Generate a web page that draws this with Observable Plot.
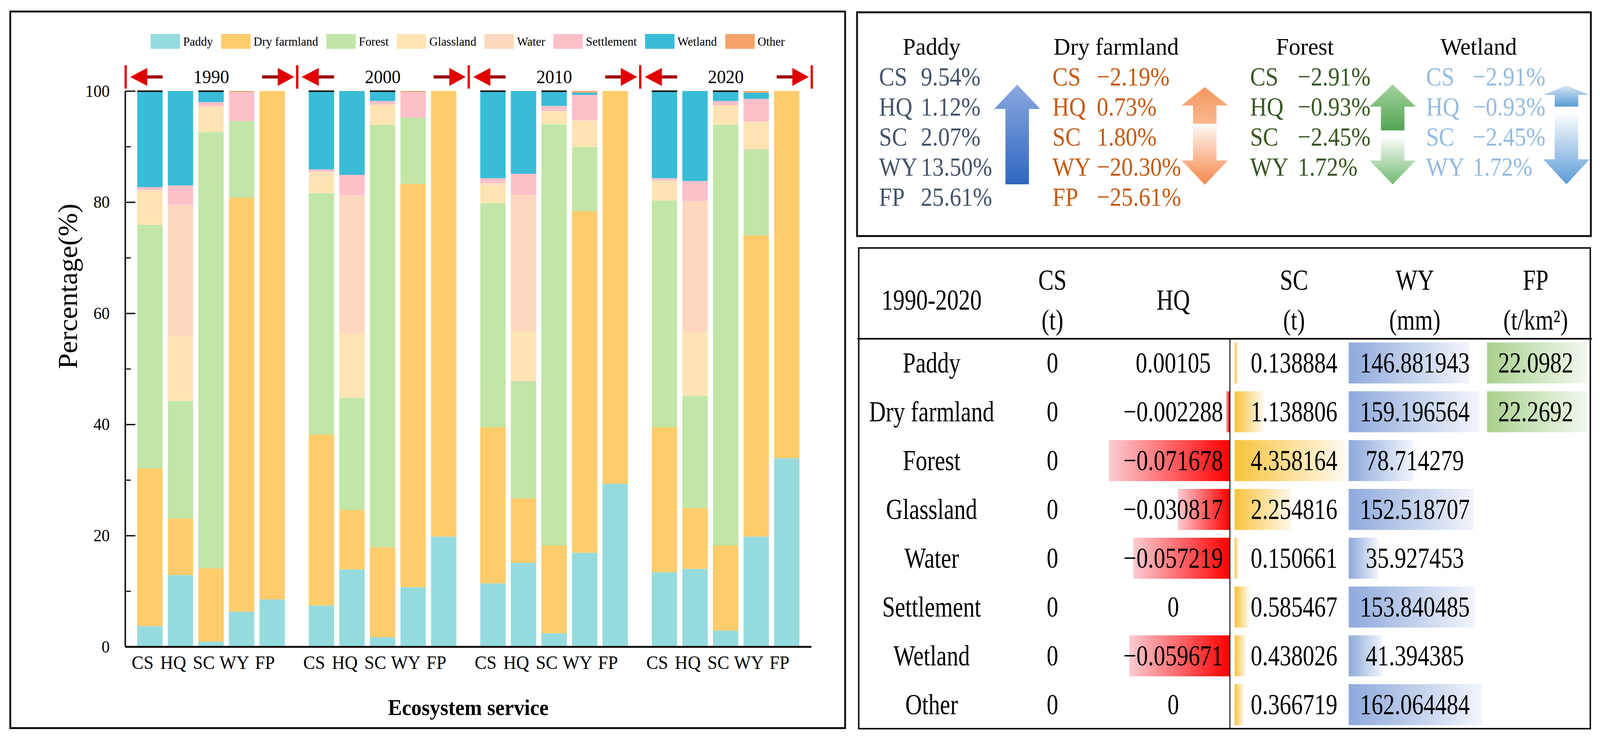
<!DOCTYPE html>
<html><head><meta charset="utf-8">
<script src="https://cdn.jsdelivr.net/npm/d3@7"></script>
<script src="https://cdn.jsdelivr.net/npm/@observablehq/plot@0.6"></script>
<style>
html,body{margin:0;padding:0;background:#fff;overflow:hidden;}
body{width:100vw;height:100vh;position:relative;font-family:"Liberation Serif","Times New Roman",serif;color:#000;}
#stage{position:absolute;left:0;top:0;width:4291px;height:1895px;transform-origin:0 0;background:#fff;}
.panel{position:absolute;box-sizing:border-box;border:5px solid #111;}
svg{overflow:visible;}
</style></head><body>
<div id="stage"></div>
<script>
// ---------------- DATA ----------------
const landTypes = ["Paddy","Dry farmland","Forest","Glassland","Water","Settlement","Wetland","Other"];
const landColors = ["#95dbde","#fecc6b","#c1e6a7","#fee4b4","#fdd8be","#fdc0c8","#38bcd7","#f5a36a"];
const years = ["1990","2000","2010","2020"];
const services = ["CS","HQ","SC","WY","FP"];
const majorTicks = [0,20,40,60,80,100];
const minorTicks = [10,30,50,70,90];
const capServices = ["CS","SC"];
// share (%) of each land type (order of landTypes) in each ecosystem service
const share1990 = {
  CS: [3.7, 28.4, 43.8, 6.1, 0.2, 0.5, 17.3, 0],
  HQ: [12.9, 10.2, 21.1, 11.6, 23.7, 3.5, 17.0, 0],
  SC: [0.9, 13.2, 78.5, 4.5, 0.2, 0.7, 2.0, 0],
  WY: [6.3, 74.5, 13.8, 0, 0, 5.2, 0, 0.2],
  FP: [8.5, 91.5, 0, 0, 0, 0, 0, 0]
};
const share2000 = {
  CS: [7.4, 30.8, 43.4, 3.8, 0.1, 0.4, 14.1, 0],
  HQ: [13.9, 10.7, 20.2, 11.4, 25.0, 3.7, 15.1, 0],
  SC: [1.7, 16.2, 76.0, 3.5, 0.2, 0.6, 1.8, 0],
  WY: [10.7, 72.6, 11.9, 0, 0, 4.6, 0, 0.2],
  FP: [19.8, 80.2, 0, 0, 0, 0, 0, 0]
};
const share2010 = {
  CS: [11.4, 28.1, 40.3, 3.3, 0.4, 0.8, 15.7, 0],
  HQ: [15.1, 11.6, 21.1, 8.9, 24.6, 3.8, 14.9, 0],
  SC: [2.4, 15.8, 75.8, 2.3, 0.1, 0.9, 2.7, 0],
  WY: [16.9, 61.5, 11.5, 4.8, 0, 4.6, 0.4, 0.3],
  FP: [29.3, 70.7, 0, 0, 0, 0, 0, 0]
};
const share2020 = {
  CS: [13.4, 26.1, 40.8, 3.4, 0.2, 0.4, 15.7, 0],
  HQ: [14.0, 11.0, 20.1, 11.4, 23.7, 3.6, 16.2, 0],
  SC: [2.9, 15.3, 75.7, 3.5, 0, 0.8, 1.8, 0],
  WY: [19.8, 54.2, 15.5, 5.0, 0, 4.1, 1.1, 0.3],
  FP: [33.9, 66.1, 0, 0, 0, 0, 0, 0]
};
const yLabel = "Percentage(%)";
const xLabel = "Ecosystem service";

// change panel
const changeGroups = ["Paddy","Dry farmland","Forest","Wetland"];
const changeServices = ["CS","HQ","SC","WY","FP"];
const paddyChange = [9.54, 1.12, 2.07, 13.50, 25.61];
const dryChange = [-2.19, 0.73, 1.80, -20.30, -25.61];
const forestChange = [-2.91, -0.93, -2.45, 1.72];
const wetlandChange = [-2.91, -0.93, -2.45, 1.72];

// table
const tableRows = ["Paddy","Dry farmland","Forest","Glassland","Water","Settlement","Wetland","Other"];
const tableCols = ["type","CS","HQ","SC","WY","FP"];
const tableHeaders = ["1990-2020","CS\n(t)","HQ","SC\n(t)","WY\n(mm)","FP\n(t/km\u00b2)"];
const csChange = [0,0,0,0,0,0,0,0];
const hqChange = [0.00105,-0.002288,-0.071678,-0.030817,-0.057219,0,-0.059671,0];
const scChange = [0.138884,1.138806,4.358164,2.254816,0.150661,0.585467,0.438026,0.366719];
const wyChange = [146.881943,159.196564,78.714279,152.518707,35.927453,153.840485,41.394385,162.064484];
const fpChange = [22.0982,22.2692,null,null,null,null,null,null];

// ---------------- HELPERS ----------------
const PAGE_W = 4291, PAGE_H = 1895;
const stage = document.getElementById("stage");
function fitStage() {
  const w = document.documentElement.clientWidth || window.innerWidth || PAGE_W;
  const h = document.documentElement.clientHeight || window.innerHeight || PAGE_H;
  const sx = w / PAGE_W, sy = h / PAGE_H;
  stage.style.transform = (Math.abs(sx - 1) < 1e-3 && Math.abs(sy - 1) < 1e-3) ? "none" : `scale(${sx},${sy})`;
}
fitStage();
window.addEventListener("resize", fitStage);

const FONT = "'Liberation Serif','Times New Roman',serif";
const SVGNS = "http://www.w3.org/2000/svg";
function el(tag, attrs = {}) {
  const e = document.createElementNS(SVGNS, tag);
  for (const k in attrs) e.setAttribute(k, attrs[k]);
  return e;
}
function gradient(id, c0, c1, vertical) {
  const lg = el("linearGradient", {id, x1: 0, y1: 0, x2: vertical ? 0 : 1, y2: vertical ? 1 : 0});
  lg.appendChild(el("stop", {offset: "0%", "stop-color": c0}));
  lg.appendChild(el("stop", {offset: "100%", "stop-color": c1}));
  return lg;
}
function place(node, left, top) {
  node.style.position = "absolute";
  node.style.left = left + "px";
  node.style.top = top + "px";
  stage.appendChild(node);
  return node;
}
function stretchTexts(svg, sy, filter = () => true) {
  svg.querySelectorAll("text").forEach(t => {
    if (!filter(t)) return;
    const tr = t.getAttribute("transform");
    if (tr) t.setAttribute("transform", `${tr} scale(1,${sy})`);
    else {
      const x = parseFloat(t.getAttribute("x")) || 0, y = parseFloat(t.getAttribute("y")) || 0;
      t.setAttribute("transform", `translate(${x},${y}) scale(1,${sy}) translate(${-x},${-y})`);
    }
  });
}
const baseStyle = {fontFamily: FONT, color: "#000", background: "transparent", overflow: "visible", maxWidth: "none"};
const fmtNum = v => String(v).replace("-", "\u2212");
const fmtPct = v => (v < 0 ? "\u2212" : "") + Math.abs(v).toFixed(2) + "%";

// ---------------- PANEL BORDERS ----------------
function panel(l, t, w, h, bw) {
  const d = document.createElement("div");
  d.className = "panel";
  d.style.width = w + "px"; d.style.height = h + "px"; d.style.borderWidth = bw + "px";
  return place(d, l, t);
}
panel(25, 27, 2244, 1840, 5);
panel(2296, 29, 1973, 578, 5);
panel(2301, 633, 1966, 1235, 4);

// ---------------- LEFT: STACKED BARS ----------------
const FACET_W = 460, P_IN = 0.176, P_OUT = 0.376;
const STEP = FACET_W / (services.length - P_IN + 2 * P_OUT);
const BAND_OFF = STEP * P_OUT;
const shareByYear = {"1990": share1990, "2000": share2000, "2010": share2010, "2020": share2020};
const barData = years.flatMap(year => services.flatMap(service =>
  landTypes.map((type, i) => ({year, service, type, value: shareByYear[year][service][i]}))));
const capData = years.flatMap(year => capServices.map(service =>
  ({year, service, total: d3.sum(shareByYear[year][service])})));

function yearBrackets(index, scales) {
  const left = scales.x(services[0]) - BAND_OFF;
  const right = left + FACET_W;
  const yc = scales.y(100) - 36;
  const g = el("g");
  for (const xl of [left, right]) g.appendChild(el("line", {x1: xl, x2: xl, y1: yc - 30, y2: yc + 30, stroke: "#e00000", "stroke-width": 6}));
  g.appendChild(el("rect", {x: left + 52, y: yc - 4, width: 47, height: 8, fill: "#9c0000"}));
  g.appendChild(el("path", {d: `M${left + 12},${yc}L${left + 58},${yc - 23}L${left + 58},${yc + 23}Z`, fill: "#e00000"}));
  g.appendChild(el("rect", {x: right - 94, y: yc - 4, width: 50, height: 8, fill: "#9c0000"}));
  g.appendChild(el("path", {d: `M${right - 8},${yc}L${right - 52},${yc - 23}L${right - 52},${yc + 23}Z`, fill: "#e00000"}));
  return g;
}

const chart = Plot.plot({
  width: 2290, height: 1860,
  marginLeft: 336, marginRight: 114, marginTop: 233, marginBottom: 204,
  style: baseStyle,
  fx: {domain: years, padding: 0, axis: null},
  x: {domain: services, paddingInner: P_IN, paddingOuter: P_OUT},
  y: {domain: [0, 100]},
  color: {domain: landTypes, range: landColors},
  marks: [
    Plot.barY(barData, {fx: "year", x: "service", y: "value", fill: "type"}),
    Plot.tickY(capData, {fx: "year", x: "service", y: "total", stroke: "#111", strokeWidth: 4}),
    Plot.ruleY([0], {stroke: "#111", strokeWidth: 5}),
    Plot.rect([{year: years[0]}], {fx: "year", y1: 0, y2: 100, insetLeft: -2, insetRight: FACET_W - 2, fill: "#111"}),
    Plot.tickY(majorTicks.map(v => ({year: years[0], v})), {fx: "year", y: "v", insetRight: FACET_W - 27, stroke: "#111", strokeWidth: 3.5}),
    Plot.tickY(minorTicks.map(v => ({year: years[0], v})), {fx: "year", y: "v", insetRight: FACET_W - 15, stroke: "#111", strokeWidth: 3}),
    Plot.axisY({ticks: majorTicks, tickSize: 0, tickPadding: 42, fontSize: 44, label: null}),
    Plot.axisX({tickSize: 0, tickPadding: 22, fontSize: 48, dx: -20, label: null}),
    Plot.text(years, {fx: d => d, frameAnchor: "top", lineAnchor: "middle", dy: -36, text: d => d, fontSize: 48}),
    Plot.text([yLabel], {fx: () => years[0], frameAnchor: "left", lineAnchor: "middle", dx: -153, rotate: -90, text: d => d, fontSize: 72}),
    yearBrackets
  ]
});
place(chart, 0, 0);

// legend
const legend = document.createElement("div");
legend.style.cssText = `display:flex;gap:22px;align-items:center;height:38px;font-family:${FONT};font-size:32px;line-height:38px;white-space:nowrap;`;
landTypes.forEach((t, i) => {
  const item = document.createElement("div");
  item.style.cssText = "display:flex;align-items:center;";
  const sw = document.createElement("span");
  sw.style.cssText = `display:inline-block;width:79px;height:38px;background:${landColors[i]};margin-right:8px;`;
  const lb = document.createElement("span");
  lb.textContent = t;
  item.append(sw, lb);
  legend.appendChild(item);
});
place(legend, 404, 87);

const xl = document.createElement("div");
xl.textContent = xLabel;
xl.style.cssText = `font-family:${FONT};font-weight:bold;font-size:56px;line-height:56px;transform:translateX(-50%);white-space:nowrap;`;
place(xl, 1256, 1784);

// ---------------- TOP RIGHT: CHANGE PANEL ----------------
const changeValues = {"Paddy": paddyChange, "Dry farmland": dryChange, "Forest": forestChange, "Wetland": wetlandChange};
const groupLayout = {
  "Paddy": {color: "#44546a", titleDx: 0, labelDx: -141, valueDx: -29, arrowDx: 230,
    parts: [{dir: "up", tip: 188, base: 250, end: 443, c0: "#8aa8de", c1: "#2f66c2"}]},
  "Dry farmland": {color: "#c55a11", titleDx: 6, labelDx: -165, valueDx: -46, arrowDx: 244,
    parts: [{dir: "up", tip: 194, base: 241, end: 288, c0: "#f4975e", c1: "#f8b88f"},
            {dir: "down", end: 297, base: 382, tip: 444, c0: "#fff2ec", c1: "#f4874a"}]},
  "Forest": {color: "#385723", titleDx: 23, labelDx: -124, valueDx: 4, arrowDx: 259,
    parts: [{dir: "up", tip: 187, base: 244, end: 305, c0: "#a3d39f", c1: "#52a553"},
            {dir: "down", end: 319, base: 382, tip: 443, c0: "#ffffff", c1: "#72b972"}]},
  "Wetland": {color: "#94bbe0", titleDx: 0, labelDx: -141, valueDx: -16, arrowDx: 236,
    parts: [{dir: "up", tip: 190, base: 214, end: 244, c0: "#d6e6f5", c1: "#5b9bd5"},
            {dir: "down", end: 259, base: 379, tip: 443, c0: "#ffffff", c1: "#5b9bd5"}]}
};
function changeArrows(index, scales) {
  const g = el("g");
  const defs = el("defs");
  g.appendChild(defs);
  changeGroups.forEach((grp, gi) => {
    const cfg = groupLayout[grp];
    const cx = scales.x(grp) + cfg.arrowDx;
    const H = 62, S = 31.5;
    cfg.parts.forEach((p, pi) => {
      const id = `chArrow${gi}_${pi}`;
      defs.appendChild(gradient(id, p.c0, p.c1, true));
      const d = p.dir === "up"
        ? `M${cx},${p.tip}L${cx + H},${p.base}L${cx + S},${p.base}L${cx + S},${p.end}L${cx - S},${p.end}L${cx - S},${p.base}L${cx - H},${p.base}Z`
        : `M${cx - S},${p.end}L${cx + S},${p.end}L${cx + S},${p.base}L${cx + H},${p.base}L${cx},${p.tip}L${cx - H},${p.base}L${cx - S},${p.base}Z`;
      g.appendChild(el("path", {d, fill: `url(#${id})`}));
    });
  });
  return g;
}
const changeMarks = changeGroups.flatMap(grp => {
  const cfg = groupLayout[grp];
  const items = changeValues[grp].map((v, i) => ({s: changeServices[i], v}));
  return [
    Plot.text([grp], {x: d => d, y: () => "title", text: d => d, dx: cfg.titleDx, fontSize: 62, fill: "#000"}),
    Plot.text(items, {x: () => grp, y: "s", text: "s", textAnchor: "start", dx: cfg.labelDx, fontSize: 62, fill: cfg.color}),
    Plot.text(items, {x: () => grp, y: "s", text: d => fmtPct(d.v), textAnchor: "start", dx: cfg.valueDx, fontSize: 62, fill: cfg.color})
  ];
});
const changePanel = Plot.plot({
  width: 1973, height: 578, margin: 0,
  style: baseStyle,
  x: {type: "point", domain: changeGroups, range: [201, 1670], padding: 0, axis: null},
  y: {type: "point", domain: ["title", ...changeServices], range: [89, 477], padding: 0, axis: null},
  marks: [changeArrows, ...changeMarks]
});
stretchTexts(changePanel, 1.1, t => !changeGroups.includes(t.textContent));
place(changePanel, 2296, 29);

// ---------------- BOTTOM RIGHT: TABLE ----------------
const ROWS_TOP = 867, ROWS_H = 1000;
function barColumn(values, {left, width, neg, id, c0, c1}) {
  const data = tableRows.map((row, i) => ({row, v: values[i]}))
    .filter(d => d.v != null && (neg ? d.v < 0 : d.v > 0));
  const domain = neg ? [d3.min(values), 0] : [0, d3.max(values)];
  const svg = Plot.plot({
    width, height: ROWS_H, margin: 0,
    style: baseStyle,
    x: {domain, range: [0, width], axis: null},
    y: {type: "band", domain: tableRows, range: [0, ROWS_H], paddingInner: 0.16, paddingOuter: 0.08, axis: null},
    marks: [
      () => { const d = el("defs"); d.appendChild(gradient(id, c0, c1, false)); return d; },
      Plot.barX(data, {x1: 0, x2: "v", y: "row", fill: `url(#${id})`}),
      ...(neg ? [Plot.ruleX([0], {stroke: "#000", strokeWidth: 2.5})] : [])
    ]
  });
  place(svg, left, ROWS_TOP);
}
barColumn(hqChange, {left: 2974, width: 324, neg: true, id: "gHQ", c0: "#fcccd2", c1: "#ff0000"});
barColumn(scChange, {left: 3311, width: 295, neg: false, id: "gSC", c0: "#f8c33c", c1: "#fff9ee"});
barColumn(wyChange, {left: 3617, width: 357, neg: false, id: "gWY", c0: "#8ea9db", c1: "#f2f5fc"});
barColumn(fpChange, {left: 3988, width: 269, neg: false, id: "gFP", c0: "#a9d18e", c1: "#f1f8ee"});

const columnValues = {CS: csChange, HQ: hqChange, SC: scChange, WY: wyChange, FP: fpChange};
const cellData = tableCols.slice(1).flatMap(col => tableRows.map((row, i) => ({col, row, v: columnValues[col][i]})))
  .filter(d => d.v != null);
const tableText = Plot.plot({
  width: 1966, height: 1235, marginTop: ROWS_TOP - 633, marginBottom: 1, marginLeft: 0, marginRight: 0,
  style: baseStyle,
  x: {type: "band", domain: tableCols, range: [34, 1980], padding: 0, axis: null},
  y: {type: "band", domain: tableRows, paddingInner: 0.16, paddingOuter: 0.08, axis: null},
  marks: [
    Plot.frame({anchor: "top", stroke: "#000", strokeWidth: 4}),
    Plot.text(tableHeaders, {x: (d, i) => tableCols[i], frameAnchor: "top", lineAnchor: "middle", dy: -107, text: d => d, fontSize: 62, lineHeight: 1.38}),
    Plot.text(tableRows, {x: () => "type", y: d => d, text: d => d, fontSize: 62}),
    Plot.text(cellData, {x: "col", y: "row", text: d => fmtNum(d.v), fontSize: 62})
  ]
});
stretchTexts(tableText, 1.19);
place(tableText, 2301, 633);
</script>
</body></html>
